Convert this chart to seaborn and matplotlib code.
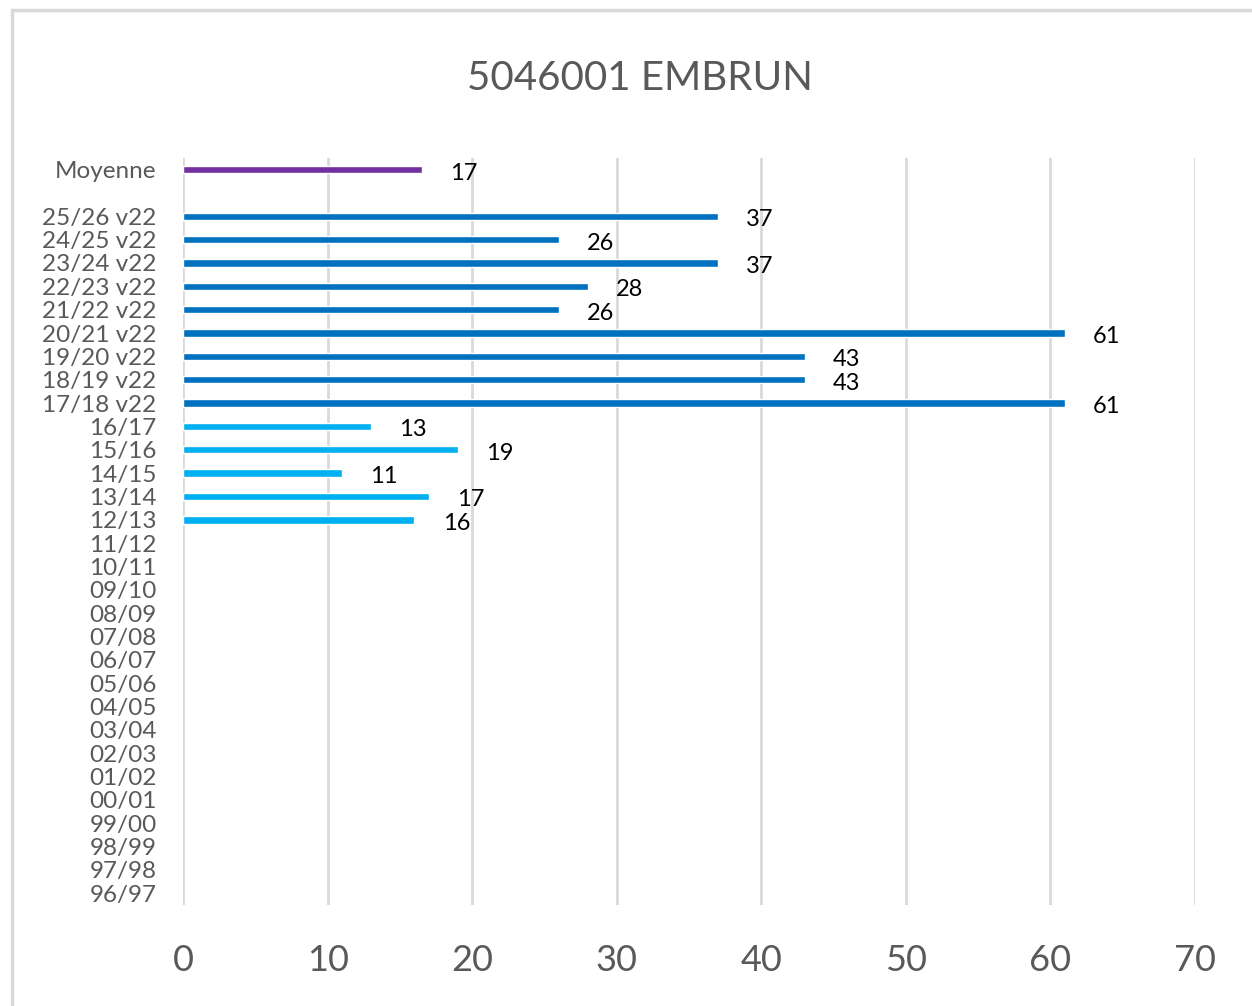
import matplotlib
matplotlib.use('Agg')
import matplotlib.pyplot as plt
import matplotlib.patches as mpatches
import numpy as np
import pandas as pd
import seaborn as sns

# Data (top to bottom)
seasons = ['Moyenne', ' ',
           '25/26 v22', '24/25 v22', '23/24 v22', '22/23 v22', '21/22 v22',
           '20/21 v22', '19/20 v22', '18/19 v22', '17/18 v22',
           '16/17', '15/16', '14/15', '13/14', '12/13', '11/12', '10/11',
           '09/10', '08/09', '07/08', '06/07', '05/06', '04/05', '03/04',
           '02/03', '01/02', '00/01', '99/00', '98/99', '97/98', '96/97']
values = [16.5, np.nan,
          37, 26, 37, 28, 26, 61, 43, 43, 61,
          13, 19, 11, 17, 16] + [np.nan] * 16
groups = ['moy', 'moy'] + ['v22'] * 9 + ['old'] * 21
colors = {'moy': '#7030A0', 'v22': '#0070C0', 'old': '#00B0F0'}

df = pd.DataFrame({'season': seasons, 'value': values, 'group': groups})

sns.set_style('white')
plt.rcParams['font.family'] = ['Lato', 'DejaVu Sans']

fig = plt.figure(figsize=(12.52, 10.06), dpi=100)
ax = fig.add_axes([0.1462, 0.1004, 0.8083, 0.7426])

sns.barplot(data=df.dropna(), x='value', y='season', hue='group', order=seasons,
            palette=colors, dodge=False, width=0.32, legend=False, ax=ax,
            saturation=1)

# value labels
for i, (s, v) in enumerate(zip(seasons, values)):
    if not np.isnan(v):
        ax.text(v + 1.95, i + 0.15, str(int(v + 0.5)), va='center', ha='left',
                fontsize=17, color='black')

ax.set_xlim(0, 70)
ax.set_ylim(len(seasons) - 0.5, -0.5)
ax.set_xticks(range(0, 71, 10))
ax.set_xlabel('')
ax.set_ylabel('')
ax.grid(axis='x', color='#D9D9D9', linewidth=2)
ax.grid(axis='y', visible=False)
ax.set_axisbelow(True)
for sp in ax.spines.values():
    sp.set_visible(False)
ax.tick_params(axis='y', length=0, pad=19, labelsize=17.5, labelcolor='#595959')
ax.tick_params(axis='x', length=0, pad=28, labelsize=26, labelcolor='#595959')

fig.text(0.511, 0.922, '5046001 EMBRUN', ha='center', va='center',
         fontsize=29, color='#595959')

# chart area border
fig.patches.append(mpatches.Rectangle((0.0096, -0.1), 2, 1.0901, transform=fig.transFigure,
                                      fill=False, edgecolor='#D9D9D9', linewidth=2.5))

fig.savefig('out.png', dpi=100)
